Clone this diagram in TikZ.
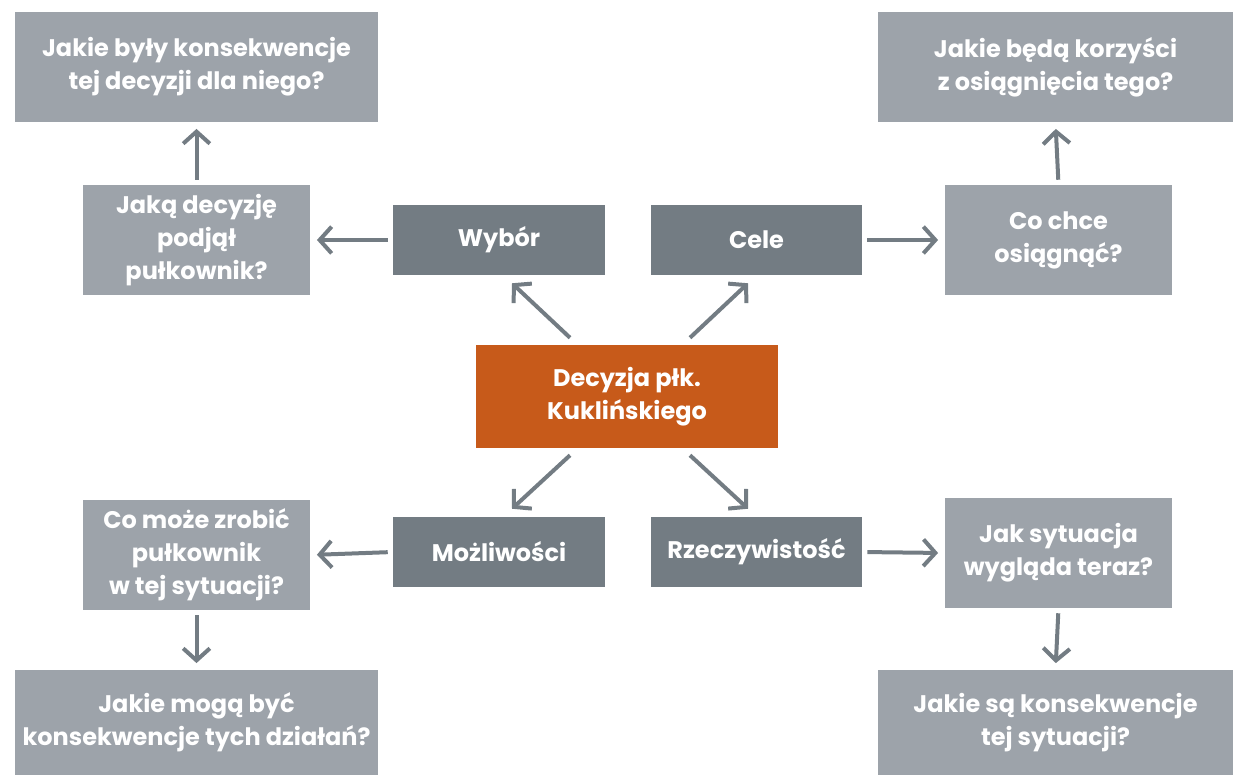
\documentclass[tikz,border=0pt]{standalone}
\usepackage{fontspec}
\setmainfont{Poppins}[BoldFont={Poppins Bold}]
\usetikzlibrary{arrows.meta,calc}
\definecolor{boxlight}{HTML}{9DA3AA}
\definecolor{boxdark}{HTML}{737C83}
\definecolor{boxorange}{HTML}{C75A1A}
\definecolor{arrowgray}{HTML}{737C83}
\tikzset{
  qbox/.style={fill=boxlight, text=white, font=\bfseries\fontsize{18}{24.75}\selectfont,
    align=center, minimum width=170.25pt, minimum height=82.5pt, inner sep=0pt},
  widebox/.style={qbox, minimum width=272.25pt, minimum height=82.5pt},
  keybox/.style={fill=boxdark, text=white, font=\bfseries\fontsize{18}{24.75}\selectfont,
    align=center, minimum width=159pt, minimum height=52.5pt, inner sep=0pt},
  centerbox/.style={fill=boxorange, text=white, font=\bfseries\fontsize{18}{24.75}\selectfont,
    align=center, minimum width=226.5pt, minimum height=77.25pt, inner sep=0pt},
  arr/.style={draw=arrowgray, line width=3pt, -{Straight Barb[length=9pt,width=20pt]},
    shorten <=3.75pt, shorten >=5pt}
}
\begin{document}
\begin{tikzpicture}[x=0.75pt, y=-0.75pt]
\useasboundingbox (0,0) rectangle (1234,775);
% center
\node[centerbox] (decyzja) at (627,396.5) {Decyzja płk.\\Kuklińskiego};
% four keys
\node[keybox] (wybor) at (499,240) {Wybór};
\node[keybox, minimum width=158.25pt] (cele) at (756.5,240) {Cele};
\node[keybox] (mozliwosci) at (499,552) {Możliwości};
\node[keybox, minimum width=158.25pt] (rzecz) at (756.5,552) {Rzeczywistość};
% questions
\node[qbox] (jakadecyzje) at (196.5,240) {Jaką decyzję\\podjął\\pułkownik?};
\node[widebox] (konsdecyzji) at (196.5,67) {Jakie były konsekwencje\\tej decyzji dla niego?};
\node[qbox] (cochce) at (1058.5,240) {Co chce\\osiągnąć?};
\node[widebox, minimum width=266.25pt] (korzysci) at (1055.5,67) {Jakie będą korzyści\\z osiągnięcia tego?};
\node[qbox] (comoze) at (196.5,555) {Co może zrobić\\pułkownik\\w tej sytuacji?};
\node[widebox, minimum height=78.75pt] (konsdzialan) at (196.5,722.5) {Jakie mogą być\\konsekwencje tych działań?};
\node[qbox] (jaksytuacja) at (1058.5,553) {Jak sytuacja\\wygląda teraz?};
\node[widebox, minimum width=266.25pt, minimum height=78.75pt] (konssytuacji) at (1055.5,722.5) {Jakie są konsekwencje\\tej sytuacji?};

% arrows from the center
\draw[arr, shorten <=0pt, shorten >=0pt] ($(decyzja.north)+(-57,-7)$) -- ($(wybor.south)+(13,8)$);
\draw[arr, shorten <=0pt, shorten >=0pt] ($(decyzja.north)+(63,-7)$) -- ($(cele.south)+(-8.5,8)$);
\draw[arr, shorten <=0pt, shorten >=0pt] ($(decyzja.south)+(-57,7)$) -- ($(mozliwosci.north)+(13,-8)$);
\draw[arr, shorten <=0pt, shorten >=0pt] ($(decyzja.south)+(63,7)$) -- ($(rzecz.north)+(-8.5,-8)$);
% arrows to the questions
\draw[arr] (wybor.west) -- (jakadecyzje.east);
\draw[arr] (jakadecyzje.north) -- (konsdecyzji.south);
\draw[arr] (cele.east) -- (cochce.west);
\draw[arr] (cochce.north) -- (korzysci.south);
\draw[arr] (mozliwosci.west) -- (comoze.east);
\draw[arr] (comoze.south) -- (konsdzialan.north);
\draw[arr] (rzecz.east) -- (jaksytuacja.west);
\draw[arr] (jaksytuacja.south) -- (konssytuacji.north);
\end{tikzpicture}
\end{document}
